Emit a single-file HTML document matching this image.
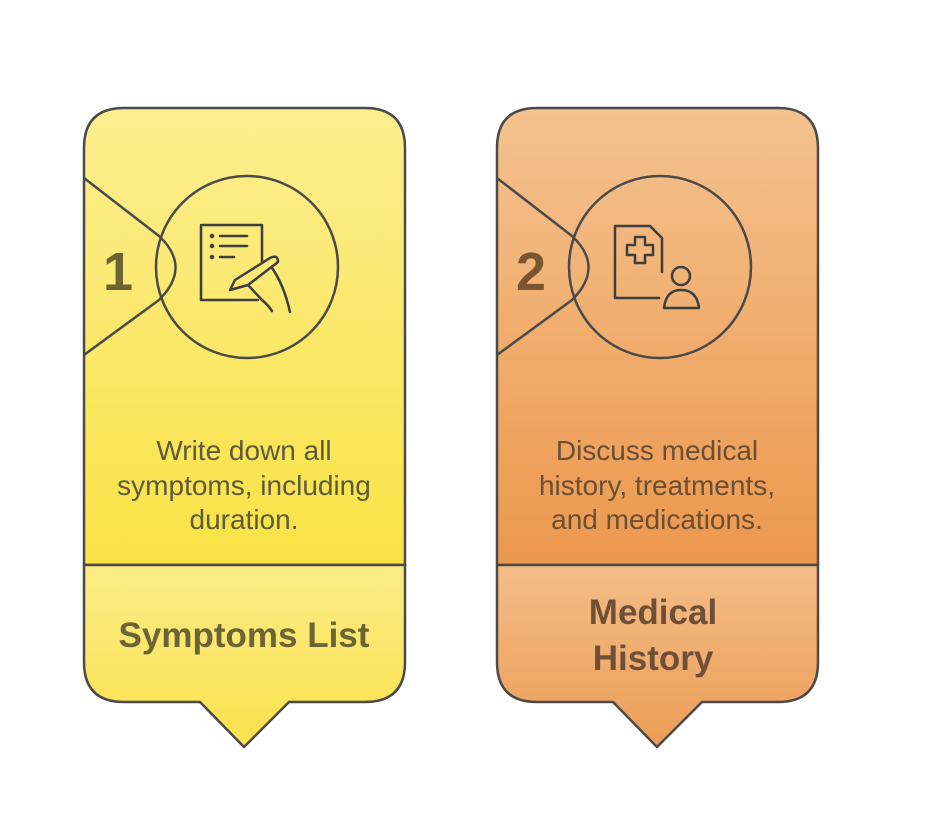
<!DOCTYPE html>
<html><head><meta charset="utf-8"><style>body{margin:0;background:#fff}svg{display:block}</style></head>
<body>
<svg width="934" height="828" viewBox="0 0 934 828" xmlns="http://www.w3.org/2000/svg" font-family="'Liberation Sans', sans-serif">
<defs>
<linearGradient id="y1" x1="0" y1="0" x2="0" y2="1"><stop offset="0" stop-color="#fcee90"/><stop offset="1" stop-color="#f9e244"/></linearGradient>
<linearGradient id="y2" x1="0" y1="0" x2="0" y2="1"><stop offset="0" stop-color="#fcec88"/><stop offset="1" stop-color="#f9e14a"/></linearGradient>
<linearGradient id="o1" x1="0" y1="0" x2="0" y2="1"><stop offset="0" stop-color="#f4c28f"/><stop offset="1" stop-color="#ec984d"/></linearGradient>
<linearGradient id="o2" x1="0" y1="0" x2="0" y2="1"><stop offset="0" stop-color="#f3bd88"/><stop offset="1" stop-color="#ec9d55"/></linearGradient>
</defs>
<g stroke="#4a4a4a" stroke-width="2.5" stroke-linejoin="round">
<path d="M84,565 V148 Q84,108 124,108 H365 Q405,108 405,148 V565 Z" fill="url(#y1)"/>
<path d="M84,565 H405 V662 Q405,702 365,702 H289 L244,747 L200,702 H124 Q84,702 84,662 Z" fill="url(#y2)"/>
<path d="M84,178 L159,236 Q192,267 159,300 L84,355" fill="none"/>
<circle cx="247" cy="267" r="91" fill="none"/>
<path d="M497,565 V148 Q497,108 537,108 H778 Q818,108 818,148 V565 Z" fill="url(#o1)"/>
<path d="M497,565 H818 V662 Q818,702 778,702 H702 L657,747 L613,702 H537 Q497,702 497,662 Z" fill="url(#o2)"/>
<path d="M497,178 L572,236 Q605,267 572,300 L497,355" fill="none"/>
<circle cx="660" cy="267" r="91" fill="none"/>
</g>
<g stroke="#3e3e3e" stroke-width="2.5" fill="none" stroke-linecap="round" stroke-linejoin="round">
<path d="M258,300 H201 V225 H262 V262"/>
<circle cx="212" cy="236" r="1" /><circle cx="212" cy="246" r="1"/><circle cx="212" cy="257" r="1"/>
<path d="M220,236 H247 M220,246 H247 M220,257 H234"/>
<path d="M230,290 L235,280 L270,258 Q278,254 278,262 L248,285 Z"/>
<path d="M248,285 L262,300 Q268,305 272,311 M272,268 Q284,285 290,312"/>
<path d="M659,298 H615 V226 H650 L662,238 V272"/>
<path d="M627,245 H635 V237 H645 V245 H653 V255 H645 V263 H635 V255 H627 Z"/>
<circle cx="681" cy="276" r="9"/>
<path d="M664,308 Q666,290 681,290 Q697,290 699,308 Z"/>
</g>
<g font-weight="bold" font-size="54">
<text x="118" y="290" text-anchor="middle" fill="#6b6332">1</text>
<text x="531" y="290" text-anchor="middle" fill="#7a5530">2</text>
</g>
<g font-size="28" text-anchor="middle" fill="#5e5a3c">
<text x="244" y="460">Write down all</text>
<text x="244" y="495">symptoms, including</text>
<text x="244" y="529">duration.</text>
</g>
<g font-size="28" text-anchor="middle" fill="#6a4f35">
<text x="657" y="460">Discuss medical</text>
<text x="657" y="495">history, treatments,</text>
<text x="657" y="529">and medications.</text>
</g>
<text x="244" y="647" font-size="35" font-weight="bold" text-anchor="middle" fill="#6b6436">Symptoms List</text>
<g font-size="35" font-weight="bold" text-anchor="middle" fill="#6e5038">
<text x="653" y="624">Medical</text>
<text x="653" y="670">History</text>
</g>
</svg>
</body></html>
